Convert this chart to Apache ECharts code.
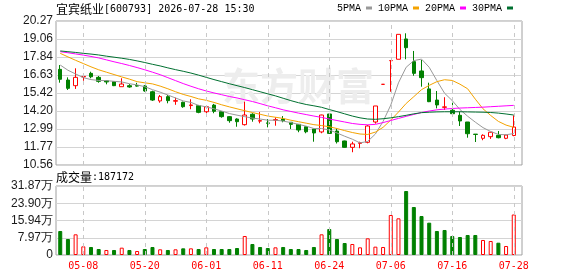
<!DOCTYPE html>
<html><head><meta charset="utf-8">
<script src="https://cdn.jsdelivr.net/npm/echarts@6/dist/echarts.min.js"></script>
<style>html,body{margin:0;padding:0;background:#fff}#c{width:578px;height:276px}</style>
</head><body><div id="c"></div>
<script>
const stockName = '宜宾纸业';
const stockCode = '600793';
const stamp = '2026-07-28 15:30';
const dates = ['04-30','05-06','05-07','05-08','05-11','05-12','05-13','05-14','05-15','05-18',
 '05-19','05-20','05-21','05-22','05-25','05-26','05-27','05-28','05-29','06-01',
 '06-02','06-03','06-04','06-05','06-08','06-09','06-10','06-11','06-12','06-15',
 '06-16','06-17','06-18','06-22','06-23','06-24','06-25','06-26','06-29','06-30',
 '07-01','07-02','07-03','07-06','07-07','07-08','07-09','07-10','07-13','07-14',
 '07-15','07-16','07-17','07-20','07-21','07-22','07-23','07-24','07-27','07-28'];
const labeledDates = ['05-08','05-20','06-01','06-11','06-24','07-06','07-16','07-28'];
const opens = [17.01,16.29,15.91,16.50,16.74,16.47,16.24,16.18,15.84,15.91,
 15.92,15.89,15.50,14.88,15.17,14.86,14.79,14.57,14.56,14.15,
 14.60,14.15,13.82,13.66,13.28,13.98,13.52,13.40,13.58,13.66,
 13.44,13.30,13.14,12.99,12.79,14.00,12.85,12.18,11.75,12.02,
 12.09,13.46,16.00,17.60,17.69,19.06,17.53,16.90,15.69,14.94,
 14.45,14.25,13.91,13.46,12.64,12.36,12.47,12.56,12.36,12.55];
const closes = [16.34,15.73,16.47,16.53,16.51,16.20,16.16,15.91,16.02,15.82,
 15.88,15.55,14.94,15.17,14.90,14.90,14.49,14.61,14.11,14.49,
 14.18,13.82,13.55,13.48,13.93,13.66,13.55,13.37,13.62,13.55,
 13.30,12.92,12.80,12.72,13.93,12.69,12.13,11.75,11.98,12.06,
 13.19,14.54,16.00,17.60,19.37,18.47,16.74,16.45,14.83,14.61,
 14.48,14.02,13.53,12.67,12.62,12.56,12.77,12.40,12.58,13.12];
const lows = [16.11,15.62,15.69,16.24,16.41,16.11,16.00,15.88,15.84,15.77,
 15.84,15.50,14.88,14.76,14.72,14.62,14.42,14.32,14.05,13.98,
 14.05,13.75,13.41,13.14,13.22,13.48,13.37,13.10,13.21,13.44,
 12.99,12.77,12.70,12.13,12.70,12.65,12.01,11.73,11.42,11.69,
 12.02,13.35,16.00,15.50,17.69,17.69,16.58,15.84,14.80,14.38,
 14.27,13.80,13.19,12.40,12.11,12.23,12.32,12.36,12.30,12.50];
const highs = [17.30,16.47,17.08,16.74,16.85,16.56,16.24,16.20,16.41,16.02,
 16.10,15.95,15.57,15.28,15.28,15.10,14.83,14.99,14.61,14.54,
 14.68,14.17,13.86,13.71,14.83,14.05,14.13,13.66,13.77,13.86,
 13.44,13.32,13.16,13.00,13.95,14.07,13.03,12.20,12.13,12.13,
 13.26,14.54,16.00,17.60,19.37,19.44,18.25,17.64,16.11,15.55,
 15.13,14.76,14.15,13.46,12.64,12.63,12.79,12.85,12.60,13.90];
const ma5 = [17.30,16.95,16.70,16.45,16.32,16.26,16.25,16.20,16.16,16.04,
 15.96,15.84,15.64,15.47,15.28,15.08,14.88,14.78,14.58,14.48,
 14.35,14.20,14.03,13.92,13.82,13.72,13.66,13.58,13.58,13.52,
 13.42,13.30,13.18,13.02,13.02,12.92,12.72,12.50,12.30,12.05,
 12.15,12.65,13.50,14.60,16.10,17.15,17.60,17.70,17.15,16.25,
 15.40,14.90,14.30,13.85,13.45,13.08,12.82,12.62,12.60,12.68];
const ma10 = [18.09,17.85,17.62,17.40,17.18,16.98,16.82,16.66,16.50,16.35,
 16.18,16.10,16.03,15.88,15.70,15.50,15.32,15.18,15.02,14.92,
 14.78,14.62,14.48,14.35,14.22,14.10,13.98,13.86,13.78,13.70,
 13.58,13.48,13.38,13.28,13.22,13.14,13.02,12.88,12.75,12.65,
 12.62,12.78,13.10,13.59,14.13,14.71,15.17,15.64,15.93,16.18,
 16.31,16.26,16.01,15.70,15.00,14.35,13.90,13.50,13.25,13.10];
const ma20 = [18.20,18.13,18.05,17.97,17.88,17.78,17.65,17.52,17.40,17.27,
 17.13,16.98,16.82,16.65,16.45,16.25,16.05,15.87,15.70,15.55,
 15.42,15.30,15.18,15.08,14.96,14.84,14.70,14.55,14.42,14.28,
 14.17,14.06,13.96,13.86,13.77,13.66,13.56,13.46,13.36,13.30,
 13.27,13.30,13.42,13.56,13.70,13.84,13.97,14.10,14.20,14.28,
 14.33,14.37,14.40,14.42,14.44,14.46,14.49,14.52,14.55,14.58];
const ma30 = [18.25,18.20,18.15,18.09,18.04,17.98,17.90,17.83,17.76,17.68,
 17.58,17.47,17.35,17.24,17.11,16.99,16.88,16.76,16.62,16.47,
 16.32,16.18,16.04,15.91,15.78,15.64,15.50,15.36,15.22,15.06,
 14.90,14.76,14.64,14.55,14.45,14.30,14.16,14.01,13.86,13.74,
 13.66,13.64,13.68,13.74,13.82,13.91,14.01,14.09,14.12,14.14,
 14.15,14.15,14.15,14.14,14.13,14.12,14.10,14.06,14.00,13.93];
const volumes = [110900,73900,95500,40000,37000,27700,23100,23100,33900,23100,
 18500,27700,36900,26200,23100,26200,30800,30800,27700,35400,
 27700,27700,27700,32300,87800,50800,37000,32300,35400,37000,
 27700,27700,23100,37000,95500,120100,73900,55400,50800,35400,
 77000,38500,37000,184800,169400,295600,221700,180100,149300,110900,
 115500,87800,83100,92400,92400,69300,64700,56800,41600,187172];
// 1 = up (red), -1 = down (green), as coloured in the volume panel
const volDir = [-1,-1,1,1,-1,-1,1,-1,1,-1,
 1,-1,-1,1,-1,1,-1,1,-1,1,
 -1,-1,-1,-1,1,-1,-1,-1,1,-1,
 -1,-1,-1,-1,1,-1,-1,-1,1,1,
 1,1,1,1,1,-1,-1,-1,-1,-1,
 -1,-1,-1,-1,-1,1,1,-1,1,1];
const priceTickLabels = ['10.56','11.77','12.99','14.20','15.42','16.63','17.84','19.06','20.27'];
const volTickLabels = ['0','7.97万','15.94万','23.90万','31.87万'];
const maNames = ['5PMA','10PMA','20PMA','30PMA'];

const RED = '#ff0000', GREEN = '#008000';
const priceMin = parseFloat(priceTickLabels[0]);
const priceMax = parseFloat(priceTickLabels[priceTickLabels.length - 1]);
const volMax = parseFloat(volTickLabels[volTickLabels.length - 1]) * 10000;

const chart = echarts.init(document.getElementById('c'), null, {renderer: 'canvas', devicePixelRatio: 1});
const vline = {
  silent: true, symbol: ['none', 'none'], animation: false,
  label: {show: false},
  lineStyle: {color: '#c8c8c8', type: [4, 4], width: 1},
  emphasis: {disabled: true},
  data: labeledDates.map(d => ({xAxis: d}))
};
const axisFont = {fontFamily: 'Liberation Sans', fontSize: 12, color: '#1a1a1a'};
const maColors = ['#999999', '#f4a300', '#ff00ff', '#007030'];
const maData = [ma5, ma10, ma20, ma30];
const headRich = {
  c: {fontFamily: 'Noto Sans CJK SC', fontSize: 12, fontWeight: 'normal', color: '#000'},
  a: {fontFamily: 'DejaVu Sans Mono', fontSize: 10, fontWeight: 'normal', color: '#000'}
};

chart.setOption({
  animation: false,
  backgroundColor: '#fff',
  title: [
    {left: 56, top: 3, padding: 0,
     text: '{c|' + stockName + '}{a|[' + stockCode + '] ' + stamp + '}',
     textStyle: {fontWeight: 'normal', rich: headRich}},
    {left: 56, top: 171, padding: 0,
     text: '{c|成交量}{a|:' + volumes[volumes.length - 1] + '}',
     textStyle: {fontWeight: 'normal', rich: headRich}}
  ],
  legend: {
    data: maNames, left: 337, top: 3, padding: 0, align: 'right', icon: 'rect',
    itemWidth: 6, itemHeight: 3, itemGap: 6, selectedMode: false,
    textStyle: {fontFamily: 'Liberation Mono', fontSize: 10, color: '#000'}
  },
  graphic: [{
    type: 'text', left: 222, top: 67, z: 1, silent: true,
    style: {text: '东方财富', font: 'bold 38px "Noto Sans CJK SC"', fill: '#ededed'}
  }],
  grid: [
    {left: 56, top: 21, width: 466, height: 144, show: true, borderColor: '#a0a0a0', borderWidth: 1, backgroundColor: 'transparent'},
    {left: 56.4, top: 21, width: 461.2, height: 144},
    {left: 56, top: 186, width: 466, height: 69, show: true, borderColor: '#a0a0a0', borderWidth: 1, backgroundColor: 'transparent'},
    {left: 56.4, top: 186, width: 461.2, height: 69}
  ],
  xAxis: [
    {gridIndex: 0, type: 'value', min: 0, max: 1, show: false},
    {gridIndex: 1, type: 'category', data: dates, boundaryGap: true,
     axisLine: {show: false}, axisTick: {show: false}, axisLabel: {show: false}, splitLine: {show: false}},
    {gridIndex: 2, type: 'value', min: 0, max: 1, show: false},
    {gridIndex: 3, type: 'category', data: dates, boundaryGap: true,
     axisLine: {show: false}, axisTick: {show: false}, splitLine: {show: false},
     axisLabel: {interval: (i, v) => labeledDates.includes(v), color: RED,
       fontFamily: 'DejaVu Sans Mono', fontSize: 10, margin: 6, hideOverlap: false}}
  ],
  yAxis: [
    {gridIndex: 0, type: 'value', min: 0, max: priceTickLabels.length - 1, interval: 1,
     axisLine: {show: false}, axisTick: {show: false},
     axisLabel: Object.assign({margin: 3, formatter: v => priceTickLabels[Math.round(v)]}, axisFont),
     splitLine: {lineStyle: {color: '#d4d4d4', width: 1}}},
    {gridIndex: 1, type: 'value', min: priceMin, max: priceMax, show: false, splitLine: {show: false}},
    {gridIndex: 2, type: 'value', min: 0, max: volTickLabels.length - 1, interval: 1,
     axisLine: {show: false}, axisTick: {show: false},
     axisLabel: Object.assign({margin: 3, formatter: v => volTickLabels[Math.round(v)]}, axisFont),
     splitLine: {lineStyle: {color: '#d4d4d4', width: 1}}},
    {gridIndex: 3, type: 'value', min: 0, max: volMax, show: false, splitLine: {show: false}}
  ],
  series: [
    {type: 'candlestick', name: 'K', xAxisIndex: 1, yAxisIndex: 1, barWidth: 4,
     data: dates.map((d, i) => [opens[i], closes[i], lows[i], highs[i]]),
     itemStyle: {color: '#ffffff', color0: GREEN, borderColor: RED, borderColor0: GREEN, borderWidth: 1},
     markLine: vline},
    ...maNames.map((n, k) => ({
      type: 'line', name: n, xAxisIndex: 1, yAxisIndex: 1, data: maData[k],
      color: maColors[k], symbol: 'none', showSymbol: false, z: 3,
      lineStyle: {width: 1, color: maColors[k]}
    })),
    {type: 'bar', name: 'VOL', xAxisIndex: 3, yAxisIndex: 3, barWidth: 4,
     data: volumes.map((v, i) => ({value: v, itemStyle: volDir[i] > 0
       ? {color: '#ffffff', borderColor: RED, borderWidth: 1}
       : {color: GREEN, borderColor: GREEN, borderWidth: 1}})),
     markLine: vline}
  ]
});
</script></body></html>
